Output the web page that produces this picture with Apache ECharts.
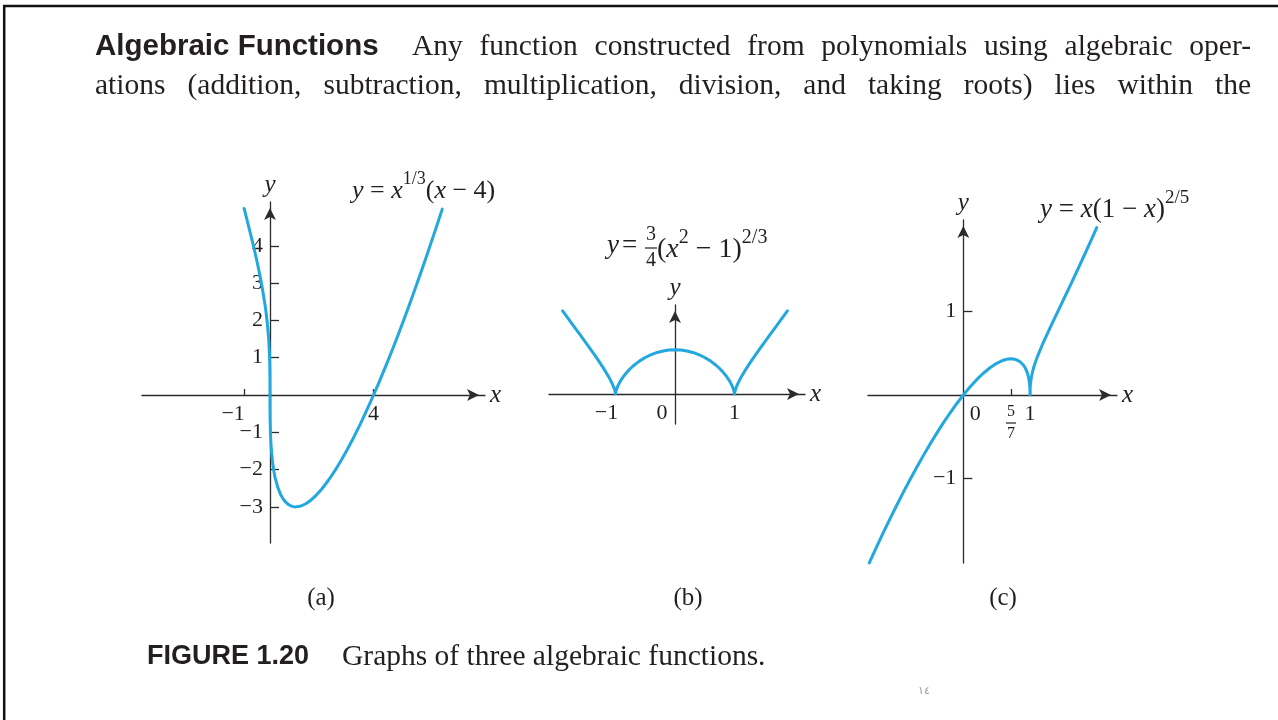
<!DOCTYPE html>
<html>
<head>
<meta charset="utf-8">
<title>Graphs of three algebraic functions</title>
<script src="https://cdn.jsdelivr.net/npm/echarts@6/dist/echarts.min.js"></script>
<style>
  html, body { margin: 0; padding: 0; background: #ffffff; }
  #chart { width: 1278px; height: 720px; }
</style>
</head>
<body>
<div id="chart"></div>
<script>
// ---- sampled points of the three curves ----
// (a) y = x^(1/3) (x - 4)
const curveA = [
  [-1, 5.000], [-0.9, 4.731], [-0.8, 4.456], [-0.7, 4.173], [-0.6, 3.880], [-0.5, 3.572],
  [-0.4, 3.242], [-0.3, 2.878], [-0.2, 2.456], [-0.15, 2.205], [-0.1, 1.903], [-0.05, 1.492],
  [-0.02, 1.091], [-0.005, 0.685], [-0.001, 0.400], [0, 0], [0.001, -0.400], [0.005, -0.683],
  [0.02, -1.080], [0.05, -1.455], [0.1, -1.810], [0.15, -2.046], [0.2, -2.222], [0.3, -2.477],
  [0.4, -2.652], [0.5, -2.778], [0.6, -2.868], [0.7, -2.930], [0.8, -2.971], [0.9, -2.993],
  [1, -3.000], [1.2, -2.976], [1.4, -2.909], [1.6, -2.807], [1.8, -2.676], [2, -2.520],
  [2.25, -2.293], [2.5, -2.036], [2.75, -1.751], [3, -1.442], [3.25, -1.111], [3.5, -0.759],
  [3.75, -0.388], [4, 0], [4.25, 0.405], [4.5, 0.826], [4.75, 1.261], [5, 1.710],
  [5.25, 2.173], [5.5, 2.648], [5.75, 3.135], [6, 3.634], [6.25, 4.145], [6.5, 4.666], [6.65, 4.983]
];
// (b) y = 3/4 (x^2 - 1)^(2/3)
const curveB = [
  [-1.89, 1.408], [-1.8, 1.284], [-1.7, 1.147], [-1.6, 1.009], [-1.5, 0.870], [-1.4, 0.730],
  [-1.3, 0.586], [-1.2, 0.434], [-1.15, 0.353], [-1.1, 0.265], [-1.05, 0.164], [-1.02, 0.088],
  [-1.005, 0.035], [-1, 0], [-0.995, 0.035], [-0.98, 0.087], [-0.96, 0.137], [-0.93, 0.198],
  [-0.9, 0.248], [-0.85, 0.319], [-0.8, 0.380], [-0.75, 0.432], [-0.7, 0.479], [-0.6, 0.557],
  [-0.5, 0.619], [-0.4, 0.668], [-0.3, 0.704], [-0.2, 0.730], [-0.1, 0.745], [0, 0.750],
  [0.1, 0.745], [0.2, 0.730], [0.3, 0.704], [0.4, 0.668], [0.5, 0.619], [0.6, 0.557],
  [0.7, 0.479], [0.75, 0.432], [0.8, 0.380], [0.85, 0.319], [0.9, 0.248], [0.93, 0.198],
  [0.96, 0.137], [0.98, 0.087], [0.995, 0.035], [1, 0], [1.005, 0.035], [1.02, 0.088],
  [1.05, 0.164], [1.1, 0.265], [1.15, 0.353], [1.2, 0.434], [1.3, 0.586], [1.4, 0.730],
  [1.5, 0.870], [1.6, 1.009], [1.7, 1.147], [1.8, 1.284], [1.89, 1.408]
];
// (c) y = x (1 - x)^(2/5)
const curveC = [
  [-1.41, -2.005], [-1.3, -1.814], [-1.2, -1.645], [-1.1, -1.480], [-1, -1.320], [-0.9, -1.163],
  [-0.8, -1.012], [-0.7, -0.866], [-0.6, -0.724], [-0.5, -0.588], [-0.4, -0.458], [-0.3, -0.333],
  [-0.2, -0.215], [-0.1, -0.104], [0, 0], [0.1, 0.096], [0.2, 0.183], [0.3, 0.260],
  [0.4, 0.326], [0.5, 0.379], [0.6, 0.416], [0.65, 0.427], [0.7, 0.433], [0.75, 0.431],
  [0.8, 0.420], [0.85, 0.398], [0.9, 0.358], [0.93, 0.321], [0.96, 0.265], [0.98, 0.205],
  [0.995, 0.120], [0.999, 0.063], [1, 0], [1.001, 0.063], [1.005, 0.121], [1.02, 0.213],
  [1.05, 0.317], [1.1, 0.438], [1.2, 0.630], [1.3, 0.803], [1.4, 0.970], [1.5, 1.137],
  [1.6, 1.304], [1.7, 1.474], [1.8, 1.646], [1.9, 1.822], [2, 2.000]
];

// ---- ticks and tick labels ----
const aTicksX = [-1, 4];
const aLabelsX = [-1, 4];
const aTicksY = [-3, -2, -1, 1, 2, 3, 4];
const bTicksX = [-1, 1];
const bLabelsX = [-1, 0, 1];
const cFracTick = 5 / 7;
const cTicksX = [cFracTick, 1];
const cLabelsX = [0, 1];
const cTicksY = [-1, 1];

// ---- axis extents ----
const aRangeX = [-4.942, 8.301];
const aRangeY = [-3.968, 5.174];
const bRangeX = [-2.118, 2.185];
const bRangeY = [-0.508, 1.508];
const cRangeX = [-1.429, 2.304];
const cRangeY = [-2.007, 2.091];

// ---- texts ----
const headBold = 'Algebraic Functions';
const headLine1 = ['Any', 'function', 'constructed', 'from', 'polynomials', 'using', 'algebraic', 'oper-'];
const headLine2 = ['ations', '(addition,', 'subtraction,', 'multiplication,', 'division,', 'and', 'taking', 'roots)', 'lies', 'within', 'the'];
const captionLabel = 'FIGURE 1.20';
const captionText = 'Graphs of three algebraic functions.';
const panelTags = ['(a)', '(b)', '(c)'];
const pageNumber = '١٤';

// ---- styling ----
const SERIF = '"Liberation Serif", "Times New Roman", serif';
const SANS = '"Liberation Sans", Arial, sans-serif';
const INK = '#231f20';
const AXIS_INK = '#2b2b2b';
const CURVE = '#22a8de';

const boxes = [
  { left: 142, top: 202, width: 343, height: 341 },
  { left: 549, top: 305, width: 256, height: 119 },
  { left: 868, top: 220, width: 249, height: 343 }
];

const chart = echarts.init(document.getElementById('chart'), null, { renderer: 'canvas' });

const minus = v => '−' + Math.abs(v);

// distance (px) from the grid edge to the value 0, used to run each axis through the origin
function zeroShift(range, size) {
  return -size * (0 - range[0]) / (range[1] - range[0]);
}

function gridBox(b) {
  return { left: b.left, top: b.top, width: b.width, height: b.height, containLabel: false, outerBoundsMode: 'none' };
}

function axisLineStyle() {
  return {
    onZero: false,
    symbol: ['none', 'arrow'],
    symbolSize: [9, 12],
    symbolOffset: [0, -6],
    lineStyle: { color: AXIS_INK, width: 1.3 }
  };
}

function xAxisCfg(i, range, otherRange, ticks, labels, formatter, rich, tickLen) {
  return {
    type: 'value', gridIndex: i, min: range[0], max: range[1], position: 'bottom',
    offset: zeroShift(otherRange, boxes[i].height),
    axisLine: axisLineStyle(),
    axisTick: { show: true, inside: true, length: tickLen, customValues: ticks,
                lineStyle: { color: AXIS_INK, width: 1.3 } },
    axisLabel: { show: labels.length > 0, customValues: labels, formatter, margin: 8,
                 fontFamily: SERIF, fontSize: 22, color: INK, rich, hideOverlap: false },
    splitLine: { show: false },
    name: 'x', nameLocation: 'end', nameGap: 5,
    nameTextStyle: { fontFamily: SERIF, fontStyle: 'italic', fontSize: 25, color: INK,
                     align: 'left', verticalAlign: 'middle' }
  };
}

function yAxisCfg(i, range, otherRange, ticks, formatter, tickLen) {
  return {
    type: 'value', gridIndex: i, min: range[0], max: range[1], position: 'left',
    offset: zeroShift(otherRange, boxes[i].width),
    axisLine: axisLineStyle(),
    axisTick: { show: ticks.length > 0, inside: true, length: tickLen, customValues: ticks,
                lineStyle: { color: AXIS_INK, width: 1.3 } },
    axisLabel: { show: ticks.length > 0, customValues: ticks, formatter, margin: 7,
                 fontFamily: SERIF, fontSize: 22, color: INK, hideOverlap: false },
    splitLine: { show: false },
    name: 'y', nameLocation: 'end', nameGap: 4,
    nameTextStyle: { fontFamily: SERIF, fontStyle: 'italic', fontSize: 25, color: INK,
                     align: 'center', verticalAlign: 'bottom' }
  };
}

function curveSeries(idx, data) {
  return {
    type: 'line', xAxisIndex: idx, yAxisIndex: idx, data,
    showSymbol: false, symbol: 'none', smooth: false, clip: false, silent: true,
    lineStyle: { color: CURVE, width: 3, cap: 'round', join: 'round' }
  };
}

const option = {
  backgroundColor: '#ffffff',
  animation: false,
  grid: boxes.map(gridBox),
  xAxis: [
    xAxisCfg(0, aRangeX, aRangeY, aTicksX, aLabelsX,
      v => v < 0 ? '{n|' + minus(v) + '}' : String(v),
      { n: { padding: [0, 22, 0, 0] } }, 6),
    xAxisCfg(1, bRangeX, bRangeY, bTicksX, bLabelsX,
      v => v < 0 ? '{n|' + minus(v) + '}' : (v === 0 ? '{z|0}' : String(v)),
      { n: { padding: [0, 18, 0, 0] }, z: { padding: [0, 26, 0, 0] } }, 5),
    xAxisCfg(2, cRangeX, cRangeY, cTicksX, cLabelsX,
      v => v === 0 ? '{z|0}' : String(v),
      { z: { padding: [0, 0, 0, 24] } }, 6)
  ],
  yAxis: [
    yAxisCfg(0, aRangeY, aRangeX, aTicksY, v => v < 0 ? minus(v) : String(v), 9),
    yAxisCfg(1, bRangeY, bRangeX, [], v => String(v), 0),
    yAxisCfg(2, cRangeY, cRangeX, cTicksY, v => v < 0 ? minus(v) : String(v), 9)
  ],
  series: [curveSeries(0, curveA), curveSeries(1, curveB), curveSeries(2, curveC)]
};

chart.setOption(option);

// ---- annotations, paragraph and caption ----
const measureCtx = document.createElement('canvas').getContext('2d');
function textWidth(str, font) { measureCtx.font = font; return measureCtx.measureText(str).width; }

function justifiedWords(words, x0, x1, y, font) {
  const widths = words.map(w => textWidth(w, font));
  const total = widths.reduce((s, w) => s + w, 0);
  const gap = (x1 - x0 - total) / (words.length - 1);
  let x = x0;
  return words.map((w, i) => {
    const el = { type: 'text', x, y, silent: true,
                 style: { text: w, font, fill: INK, align: 'left', verticalAlign: 'middle' } };
    x += widths[i] + gap;
    return el;
  });
}

function plainText(str, x, y, font, align, fill) {
  return { type: 'text', x, y, silent: true,
           style: { text: str, font, fill: fill || INK, align: align || 'left', verticalAlign: 'middle' } };
}

function formulaRich(size, supSize) {
  return {
    i: { fontFamily: SERIF, fontStyle: 'italic', fontSize: size, lineHeight: size + 8, verticalAlign: 'bottom', fill: INK },
    r: { fontFamily: SERIF, fontSize: size, lineHeight: size + 8, verticalAlign: 'bottom', fill: INK },
    s: { fontFamily: SERIF, fontSize: supSize, lineHeight: supSize, verticalAlign: 'top', fill: INK }
  };
}

function formula(text, x, y, size, supSize) {
  return { type: 'text', x, y, silent: true,
           style: { text, rich: formulaRich(size, supSize), align: 'left', verticalAlign: 'middle' } };
}

function fraction(num, den, cx, cy, size, barHalf, dy) {
  const font = size + 'px ' + SERIF;
  return [
    plainText(num, cx, cy - dy, font, 'center'),
    { type: 'line', silent: true, shape: { x1: cx - barHalf, y1: cy, x2: cx + barHalf, y2: cy },
      style: { stroke: INK, lineWidth: 1.2 } },
    plainText(den, cx, cy + dy, font, 'center')
  ];
}

const bodyFont = '29.5px ' + SERIF;
const boldFont = 'bold 29.5px ' + SANS;
const capBold = 'bold 27px ' + SANS;

const p57 = chart.convertToPixel({ gridIndex: 2 }, [cFracTick, 0]);

const elements = [
  // frame
  { type: 'line', silent: true, shape: { x1: 3, y1: 6, x2: 1278, y2: 6 }, style: { stroke: '#111', lineWidth: 2.5 } },
  { type: 'line', silent: true, shape: { x1: 4.2, y1: 5, x2: 4.2, y2: 720 }, style: { stroke: '#111', lineWidth: 2.5 } },
  // paragraph
  plainText(headBold, 95, 47, boldFont),
  ...justifiedWords(headLine1, 412, 1251, 47, bodyFont),
  ...justifiedWords(headLine2, 95, 1251, 86, bodyFont),
  // formulas
  formula('{i|y}{r| = }{i|x}{s|1/3}{r|(}{i|x}{r| − 4)}', 352, 187, 26, 18),
  plainText('y', 607, 246, 'italic 27px ' + SERIF),
  plainText('=', 622, 246, '27px ' + SERIF),
  ...fraction('3', '4', 651, 248, 20, 6, 13),
  formula('{r|(}{i|x}{s|2}{r| − 1)}{s|2/3}', 657, 246, 28, 20),
  formula('{i|y}{r| = }{i|x}{r|(1 − }{i|x}{r|)}{s|2/5}', 1040, 206, 27, 19),
  // 5/7 tick label
  ...fraction('5', '7', p57[0], 423, 16, 5, 11),
  // panel tags
  plainText(panelTags[0], 321, 598, '25px ' + SERIF, 'center'),
  plainText(panelTags[1], 688, 598, '25px ' + SERIF, 'center'),
  plainText(panelTags[2], 1003, 598, '25px ' + SERIF, 'center'),
  // caption
  plainText(captionLabel, 147, 657, capBold),
  plainText(captionText, 342, 657, bodyFont),
  plainText(pageNumber, 924, 691, '11px "DejaVu Sans", sans-serif', 'center', '#9a9a9a')
];

chart.setOption({ graphic: { elements } });
</script>
</body>
</html>
